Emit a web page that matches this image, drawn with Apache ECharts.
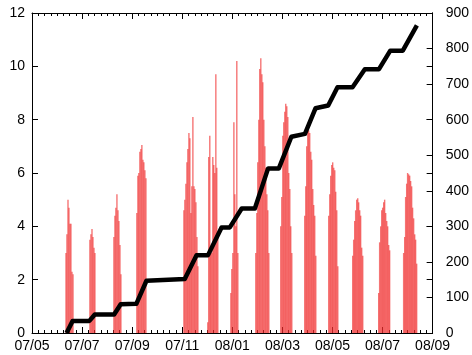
<!DOCTYPE html>
<html>
<head>
<meta charset="utf-8">
<script src="https://cdn.jsdelivr.net/npm/echarts@6/dist/echarts.min.js"></script>
<style>
html,body{margin:0;padding:0;background:#fff;}
#chart{width:472px;height:355px;}
</style>
</head>
<body>
<div id="chart"></div>
<script>
// x positions are hours since the first tick (07/05)
var xTickLabels = ['07/05','07/07','07/09','07/11','08/01','08/03','08/05','08/07','08/09'];
var leftTicks = [0,2,4,6,8,10,12];
var rightTicks = [0,100,200,300,400,500,600,700,800,900];

var barHours = [
  32.6,33.5,34.5,35.4,36.4,37.3,38.3,39.3,
  55.5,56.5,57.5,58.4,59.4,60.3,
  78.5,79.5,80.4,81.4,82.4,83.3,84.3,85.2,
  100.5,101.5,102.4,103.4,104.4,105.3,106.3,107.2,108.2,109.2,
  145.6,146.5,147.5,148.5,149.4,150.4,151.3,152.3,153.2,154.2,155.2,156.1,157.1,158.1,159.0,
  168.5,169.4,170.4,171.3,172.3,173.3,174.2,175.2,176.2,177.1,178.1,
  190.6,191.5,192.5,193.5,194.4,195.4,196.3,197.3,
  214.5,215.5,216.4,217.4,218.3,219.3,220.3,221.2,222.2,223.2,224.1,225.1,226.0,227.0,
  238.4,239.4,240.4,241.3,242.3,243.2,244.2,245.2,246.1,247.1,248.0,249.0,
  261.4,262.4,263.3,264.3,265.2,266.2,267.2,268.1,269.1,270.0,271.0,272.0,
  284.4,285.4,286.3,287.3,288.2,289.2,290.2,291.1,292.1,293.1,
  307.4,308.3,309.3,310.2,311.2,312.2,313.1,314.1,315.0,316.0,317.0,
  332.3,333.2,334.2,335.2,336.1,337.1,338.0,339.0,340.0,340.9,341.9,342.8,
  356.2,357.2,358.1,359.1,360.0,361.0,362.0,362.9,363.9,364.8,365.8,366.8,367.7,368.7
];
var barValues = [
  3.0,3.7,5.0,4.7,4.1,4.1,2.3,2.2,
  3.5,3.7,3.9,3.6,3.2,3.0,
  3.6,4.4,4.7,5.2,4.6,4.2,3.3,2.2,
  4.5,5.9,6.0,6.8,6.9,7.05,6.5,6.4,6.1,5.8,
  4.6,5.0,5.6,6.4,6.9,7.5,7.3,4.5,5.5,8.1,5.5,5.4,4.9,3.6,2.5,
  0.4,6.6,7.4,3.1,3.0,6.6,6.3,6.0,9.7,6.2,3.6,
  1.5,2.4,3.0,7.9,5.2,4.0,10.2,3.0,
  3.0,4.5,6.4,8.0,9.9,10.3,9.7,9.4,8.0,7.0,6.2,5.2,4.6,3.0,
  4.0,5.1,7.4,7.9,8.3,8.6,8.5,8.1,6.0,5.4,4.0,3.0,
  4.4,5.5,7.0,7.6,7.6,7.5,6.8,6.5,5.4,4.8,4.4,2.9,
  4.4,5.2,5.9,6.3,6.4,6.2,6.1,5.3,4.6,2.5,
  2.9,3.5,4.2,4.6,5.0,5.05,4.9,4.6,4.4,3.2,2.9,
  1.5,3.4,4.0,4.6,4.7,4.9,5.0,4.5,4.2,4.0,3.3,3.1,
  3.0,3.6,5.1,5.6,6.0,5.95,5.9,5.7,5.5,4.7,4.3,3.7,3.5,2.6
];

var lineHours = [33.1,38.9,55,60.2,78.7,85,100,109.7,146.4,157.7,168.7,181.7,189.6,201,213.6,226.3,236.6,248.6,261.6,271.7,283.9,292.8,307.2,319,332.6,343.4,355.4,368.9];
var lineValues = [0,34,34,52,52,81,82,147,152,219,219,297,297,350,350,463,463,552,560,632,640,691,691,742,742,794,794,865];

var barData = barHours.map(function(h,i){return [h, barValues[i]];});
var lineData = lineHours.map(function(h,i){return [h, lineValues[i]];});

var FONT = 'Liberation Sans, Arial, Helvetica, sans-serif';
var chart = echarts.init(document.getElementById('chart'), null, {renderer:'canvas'});

function xAx(pos, showLabel){
  return {
    type:'value', position:pos, min:0, max:384, interval:48,
    axisLine:{show:true, onZero:false, lineStyle:{color:'#000', width:1}},
    axisTick:{show:true, inside:true, length:6, lineStyle:{color:'#000'}},
    minorTick:{show:true, splitNumber:8, length:3, lineStyle:{color:'#000'}},
    splitLine:{show:false}, minorSplitLine:{show:false},
    axisLabel:{show:showLabel, color:'#000', fontFamily:FONT, fontSize:14, margin:6,
      formatter:function(v){ return xTickLabels[Math.round(v/48)]; }}
  };
}
function yAx(pos, max, interval, showLabel, margin){
  return {
    type:'value', position:pos, min:0, max:max, interval:interval,
    axisLine:{show:true, onZero:false, lineStyle:{color:'#000', width:1}},
    axisTick:{show:true, inside:true, length:6, lineStyle:{color:'#000'}},
    splitLine:{show:false},
    axisLabel:{show:showLabel, color:'#000', fontFamily:FONT, fontSize:14, margin:margin}
  };
}

chart.setOption({
  animation:false,
  backgroundColor:'#fff',
  grid:{left:32, right:39, top:13, bottom:22, containLabel:false},
  xAxis:[xAx('bottom', true), xAx('top', false)],
  yAxis:[yAx('left', 12, 2, true, 7), yAx('right', 900, 100, true, 13), yAx('right', 12, 2, false, 8)],
  series:[
    {
      type:'bar', xAxisIndex:0, yAxisIndex:0, data:barData, barWidth:1.4,
      itemStyle:{color:'rgba(240,45,45,0.66)'}, silent:true
    },
    {
      type:'line', xAxisIndex:0, yAxisIndex:1, data:lineData, showSymbol:false, symbol:'none',
      lineStyle:{color:'#000', width:4.5, join:'round'}, silent:true, z:5
    }
  ]
});
</script>
</body>
</html>
